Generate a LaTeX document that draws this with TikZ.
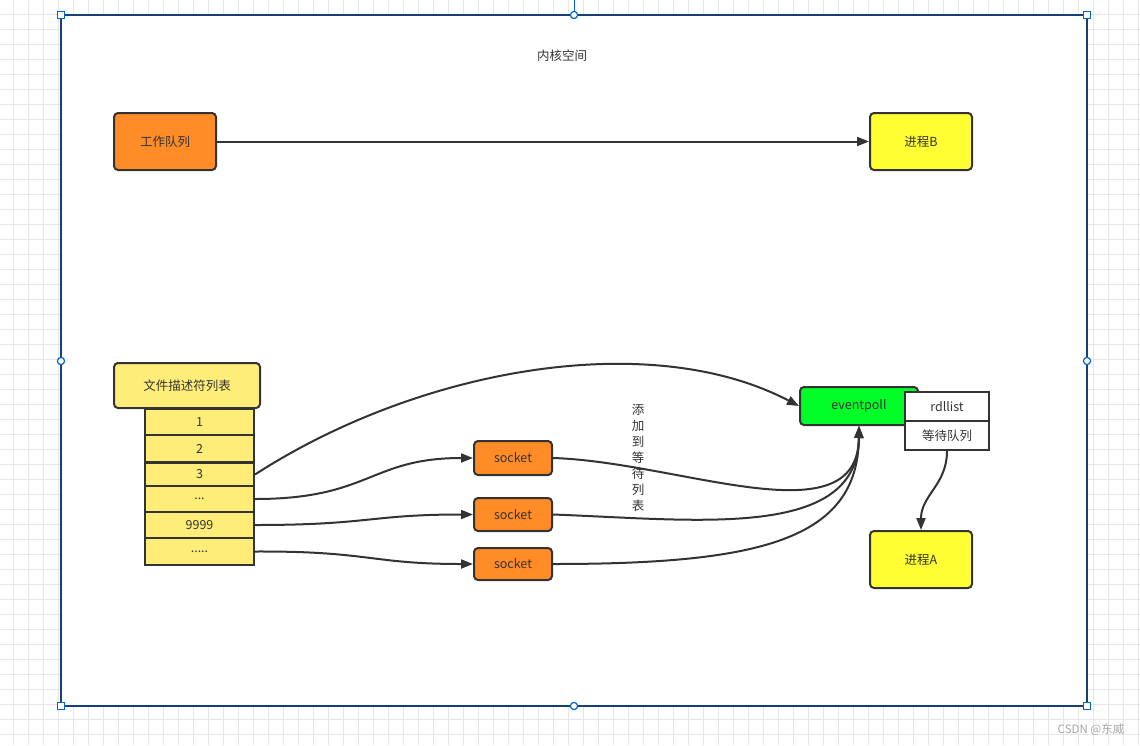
\documentclass[tikz,border=0pt]{standalone}
\usepackage{fontspec}
\setmainfont{Noto Sans CJK SC}
\usepackage{tikz}
\usetikzlibrary{arrows.meta}

\definecolor{boxline}{RGB}{51,51,51}
\definecolor{workorange}{RGB}{255,140,38}
\definecolor{procyellow}{RGB}{255,255,51}
\definecolor{listyellow}{RGB}{255,237,121}
\definecolor{pollgreen}{RGB}{0,255,40}
\definecolor{framenavy}{RGB}{22,64,120}
\definecolor{handleblue}{RGB}{0,102,204}
\definecolor{gridgray}{RGB}{230,230,230}

\begin{document}
\begin{tikzpicture}[
    x=1pt, y=-1pt,
    every node/.style={font=\fontsize{12.5}{15}\selectfont, text=boxline},
    rbox/.style={rectangle, rounded corners=4pt, draw=boxline, line width=2pt, inner sep=0pt},
    cell/.style={rectangle, draw=boxline, line width=2pt, fill=listyellow, inner sep=0pt, minimum width=109pt},
    plain/.style={rectangle, draw=boxline, line width=1.6pt, fill=white, inner sep=0pt, minimum width=84pt, minimum height=29pt},
    arrow/.style={-{Triangle[length=12pt, width=9pt]}, line width=2pt, draw=boxline},
    handle/.style={draw=handleblue, fill=white, line width=1.2pt}
]
\useasboundingbox (0,0) rectangle (1140,745);

% background grid
\foreach \x in {13.5,28.5,...,1140} \draw[gridgray, line width=0.8pt] (\x,0) -- (\x,745);
\foreach \y in {14.5,29.5,...,745} \draw[gridgray, line width=0.8pt] (0,\y) -- (1140,\y);

% kernel frame
\fill[white] (61,15) rectangle (1087,706);
\draw[framenavy, line width=2pt] (61,15) rectangle (1087,706);
\draw[handleblue, line width=1pt] (574,0) -- (574,11);
\foreach \p in {(61,15),(1087,15),(61,706),(1087,706)}
    \draw[handle] \p ++(-3.5,-3.5) rectangle ++(7,7);
\foreach \p in {(574,15),(61,361),(1087,361),(574,706)}
    \draw[handle] \p circle (3.6pt);

\node (kernel) at (562,56) {内核空间};

% processes and work queue
\node[rbox, fill=workorange, minimum width=102pt, minimum height=57pt] (queue) at (165,141.5) {工作队列};
\node[rbox, fill=procyellow, minimum width=102pt, minimum height=57pt] (procB) at (921,141.5) {进程B};
\node[rbox, fill=procyellow, minimum width=102pt, minimum height=57pt] (procA) at (921,559.5) {进程A};

% file descriptor table
\node[rbox, fill=listyellow, minimum width=146pt, minimum height=45pt] (fdlist) at (187,385.5) {文件描述符列表};
\node[cell, minimum height=26pt] (fd1) at (199.5,422) {1};
\node[cell, minimum height=27pt] (fd2) at (199.5,448.5) {2};
\node[cell, minimum height=23pt] (fd3) at (199.5,474.5) {3};
\node[cell, minimum height=26pt] (fd4) at (199.5,499) {...};
\node[cell, minimum height=26pt] (fd5) at (199.5,525) {9999};
\node[cell, minimum height=27pt] (fd6) at (199.5,551.5) {.....};

% sockets
\node[rbox, fill=workorange, minimum width=78pt, minimum height=34pt] (sock1) at (513,458) {socket};
\node[rbox, fill=workorange, minimum width=78pt, minimum height=33pt] (sock2) at (513,514.5) {socket};
\node[rbox, fill=workorange, minimum width=78pt, minimum height=32pt] (sock3) at (513,564) {socket};

% eventpoll
\node[rbox, fill=pollgreen, minimum width=118pt, minimum height=38pt] (poll) at (859,406) {eventpoll};
\node[plain] (rdl) at (947,406.5) {rdllist};
\node[plain] (waitq) at (947,435.5) {等待队列};

\node[align=center, font=\fontsize{12.5}{16}\selectfont] (addlabel) at (638,458) {添\\加\\到\\等\\待\\列\\表};

\node[text=gray!70, font=\fontsize{11.5}{14}\selectfont] (mark) at (1091,730) {CSDN @东威};

% connectors
\draw[arrow] (queue) -- (procB);
\draw[arrow] (fd3.east) .. controls (420,368) and (650,328) .. (poll.west);
\draw[arrow] (fd4.east) .. controls (370,499) and (370,458) .. (sock1.west);
\draw[arrow] (fd5.east) .. controls (370,525) and (370,514.5) .. (sock2.west);
\draw[arrow] (fd6.east) .. controls (370,551) and (370,564) .. (sock3.west);
\draw[arrow] (sock1.east) .. controls (680,462) and (858,540) .. (poll.south);
\draw[arrow] (sock2.east) .. controls (700,520) and (858,540) .. (poll.south);
\draw[arrow] (sock3.east) .. controls (760,564) and (858,540) .. (poll.south);
\draw[arrow] (waitq.south) .. controls (947,485) and (921,495) .. (procA.north);
\end{tikzpicture}
\end{document}
